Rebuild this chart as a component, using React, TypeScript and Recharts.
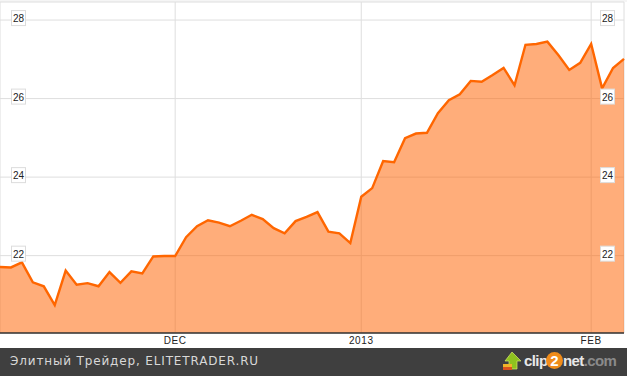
import { AreaChart, Area, CartesianGrid, XAxis, YAxis, ReferenceLine } from "recharts";

const days = Array.from({ length: 58 }, (_, i) => i);
const prices = [
  21.71, 21.7, 21.83, 21.32, 21.22, 20.74, 21.62, 21.26, 21.3, 21.22, 21.58, 21.31, 21.6, 21.55, 21.98, 21.99, 21.99,
  22.47, 22.75, 22.9, 22.84, 22.75, 22.89, 23.04, 22.93, 22.7, 22.57, 22.88, 22.99, 23.11, 22.61, 22.57, 22.32,
  23.5, 23.72, 24.41, 24.38, 24.99, 25.11, 25.13, 25.63, 25.96, 26.11, 26.45, 26.43, 26.6, 26.78, 26.34, 27.37,
  27.39, 27.45, 27.11, 26.73, 26.91, 27.39, 26.26, 26.78, 27.01,
];
const monthTicks = [0, 16, 33, 54];
const monthLabels: Record<number, string> = { 16: "DEC", 33: "2013", 54: "FEB" };
const priceTicks = [22, 24, 26, 28];
const priceDomain = [20.03, 28.46];

const data = days.map((day, i) => ({ day, price: prices[i] }));

// the same boxed label sits on both sides of the plot
function PriceTick({ y, payload }: any) {
  return (
    <g>
      {[11.5, 600.5].map((left) => (
        <g key={left}>
          <rect x={left} y={y - 9.5} width={14} height={15} fill="#fff" stroke="#dcdcdc" strokeWidth={1} />
          <text x={left + 7} y={y + 2} textAnchor="middle" fontFamily="Liberation Sans, Arial, sans-serif" fontSize={10} fill="#222">
            {payload.value}
          </text>
        </g>
      ))}
    </g>
  );
}

const logoText = { position: "absolute", top: 4, fontFamily: "Liberation Sans, Arial, sans-serif", fontSize: 15, fontWeight: 700, color: "#e8e8e8", whiteSpace: "nowrap", letterSpacing: -0.6 } as const;

function Footer() {
  return (
    <div style={{ position: "absolute", left: 0, top: 348, width: 627, height: 28, background: "#3f3f3f", overflow: "hidden" }}>
      <span style={{ position: "absolute", left: 10, top: 6, fontFamily: "DejaVu Sans, sans-serif", fontSize: 12, letterSpacing: 0.85, color: "#d8d8d8", whiteSpace: "nowrap" }}>
        Элитный Трейдер, ELITETRADER.RU
      </span>
      <svg style={{ position: "absolute", left: 502, top: 3 }} width={22} height={22}>
        <path d="M10 1 L19 10 L15 10 L15 18 L7 18 L7 10 L3 10 Z" fill="#8fc31f" stroke="#d7e86a" strokeWidth={0.7} />
        <rect x={1} y={13} width={9} height={3} fill="#f0b429" />
        <rect x={1} y={16} width={9} height={3} fill="#d9531e" />
      </svg>
      <span style={{ ...logoText, left: 524 }}>clip</span>
      <span style={{ position: "absolute", left: 546, top: 4, width: 17, height: 17, borderRadius: 9, background: "#f08c1a", textAlign: "center", lineHeight: "17px", fontFamily: "Liberation Sans, Arial, sans-serif", fontSize: 15, fontWeight: 700, color: "#fff" }}>
        2
      </span>
      <span style={{ ...logoText, left: 563 }}>
        net<span style={{ color: "#8a8a8a" }}>.com</span>
      </span>
    </div>
  );
}

export default function App() {
  return (
    <div style={{ position: "absolute", left: 0, top: 0, width: 627, height: 376, background: "#fff", overflow: "hidden" }}>
      <div style={{ position: "absolute", left: 0, top: 0, width: 627, height: 2, background: "#f5f5f5" }} />
      <AreaChart width={627} height={348} data={data} margin={{ top: 2, right: 3, bottom: 0, left: 0 }}>
        <CartesianGrid stroke="#dedede" />
        <XAxis
          dataKey="day"
          type="number"
          domain={[0, 57]}
          ticks={monthTicks}
          tickFormatter={(d: number) => monthLabels[d] ?? ""}
          interval={0}
          height={15}
          tickLine={false}
          axisLine={false}
          tickSize={0}
          tickMargin={4}
          tick={{ fontFamily: "Liberation Sans, Arial, sans-serif", fontSize: 10, fill: "#222", letterSpacing: 0.6 }}
        />
        <Area
          dataKey="price"
          type="linear"
          stroke="#ff6600"
          strokeWidth={2.4}
          fill="#ff6100"
          fillOpacity={0.52}
          dot={false}
          isAnimationActive={false}
        />
        <ReferenceLine y={20.03} stroke="#333" strokeWidth={1.4} segment={[{ x: 0, y: 20.03 }, { x: 57.3, y: 20.03 }]} ifOverflow="visible" />
        <YAxis
          orientation="left"
          mirror
          width={40}
          domain={priceDomain}
          ticks={priceTicks}
          interval={0}
          axisLine={false}
          tickLine={false}
          tick={<PriceTick />}
        />
      </AreaChart>
      <Footer />
    </div>
  );
}
